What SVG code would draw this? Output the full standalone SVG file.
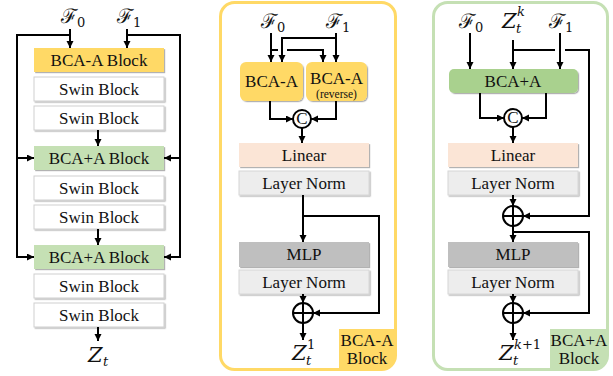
<svg xmlns="http://www.w3.org/2000/svg" width="613" height="376" viewBox="0 0 613 376">
<defs>
<marker id="ah" markerWidth="8" markerHeight="8" refX="7" refY="3.5" orient="auto" markerUnits="userSpaceOnUse">
<path d="M0,0 L7,3.5 L0,7 z" fill="#000"/>
</marker>
<filter id="sh" x="-5%" y="-10%" width="112%" height="130%">
<feDropShadow dx="1.2" dy="1.2" stdDeviation="0.6" flood-color="#000" flood-opacity="0.3"/>
</filter>
<style>
.t{font-family:"Liberation Serif","Times New Roman",serif;font-size:17px;fill:#111;text-anchor:middle}
.sm{font-size:11.5px}
.m{font-family:"DejaVu Serif","Liberation Serif",serif;font-size:20px;fill:#111}
.mi{font-family:"DejaVu Serif","Liberation Serif",serif;font-style:italic;font-size:21px;fill:#111}
.sub{font-family:"DejaVu Serif","Liberation Serif",serif;font-size:13px;fill:#111}
.subi{font-family:"DejaVu Serif","Liberation Serif",serif;font-style:italic;font-size:13px;fill:#111}
.c{fill:none;stroke:#000;stroke-width:2}
.a{fill:none;stroke:#000;stroke-width:2;marker-end:url(#ah)}
.yel{fill:#FFD966}
.grn{fill:#C5E0B4}
.grn2{fill:#A9D18E}
.swin{fill:#fff;stroke:#CFCFCF;stroke-width:1}
.lin{fill:#FBE5D6}
.ln{fill:#EDEDED;stroke:#D6D6D6;stroke-width:1}
.mlp{fill:#BFBFBF}
.blk{filter:url(#sh)}
.circ{fill:#fff;stroke:#000;stroke-width:2}
</style>
</defs>
<rect width="613" height="376" fill="#fff"/>

<!-- LEFT PANEL -->
<g id="left-inputs">
<text class="m" x="61" y="23">ℱ</text><text class="sub" x="77" y="27">0</text>
<text class="m" x="117" y="23">ℱ</text><text class="sub" x="133" y="27">1</text>
</g>
<g id="l-bcaa"><rect class="yel blk" x="34" y="48" width="130" height="24"/><text class="t" x="99" y="66">BCA-A Block</text></g>
<g id="l-swin1"><rect class="swin blk" x="34" y="77" width="130" height="24"/><text class="t" x="99" y="95">Swin Block</text></g>
<g id="l-swin2"><rect class="swin blk" x="34" y="106" width="130" height="24"/><text class="t" x="99" y="124">Swin Block</text></g>
<g id="l-bcaA1"><rect class="grn blk" x="34" y="146" width="130" height="24"/><text class="t" x="99" y="164">BCA+A Block</text></g>
<g id="l-swin3"><rect class="swin blk" x="34" y="176" width="130" height="24"/><text class="t" x="99" y="194">Swin Block</text></g>
<g id="l-swin4"><rect class="swin blk" x="34" y="205" width="130" height="24"/><text class="t" x="99" y="223">Swin Block</text></g>
<g id="l-bcaA2"><rect class="grn blk" x="34" y="245" width="130" height="24"/><text class="t" x="99" y="263">BCA+A Block</text></g>
<g id="l-swin5"><rect class="swin blk" x="34" y="274" width="130" height="24"/><text class="t" x="99" y="292">Swin Block</text></g>
<g id="l-swin6"><rect class="swin blk" x="34" y="303" width="130" height="24"/><text class="t" x="99" y="321">Swin Block</text></g>
<g id="l-out"><text class="mi" x="88" y="362">Z</text><text class="subi" x="103" y="366">t</text></g>

<!-- MIDDLE PANEL -->
<g id="mid-panel">
<path class="yel" d="M339,329 H395 V356 Q395,369 382,369 H339 Z"/>
<rect x="220.5" y="2.5" width="175" height="367" rx="14" fill="none" stroke="#FFD966" stroke-width="3"/>
<text class="t" x="367" y="346" font-size="16">BCA-A</text>
<text class="t" x="367" y="364" font-size="16">Block</text>
</g>
<g id="mid-inputs">
<text class="m" x="261" y="28">ℱ</text><text class="sub" x="277" y="32">0</text>
<text class="m" x="326" y="28">ℱ</text><text class="sub" x="342" y="32">1</text>
</g>
<g id="m-bcaa"><rect class="yel blk" x="240" y="62" width="63" height="39" rx="6"/><text class="t" x="271.5" y="87">BCA-A</text></g>
<g id="m-bcaa-rev"><rect class="yel blk" x="306" y="62" width="61" height="39" rx="6"/><text class="t" x="336.5" y="84">BCA-A</text><text class="t sm" x="336.5" y="98">(reverse)</text></g>
<g id="m-concat"><circle class="circ" cx="302" cy="119" r="9"/><text class="t" x="302" y="124" font-size="14">C</text></g>
<g id="m-linear"><rect class="lin blk" x="239" y="143" width="130" height="24"/><text class="t" x="304" y="161">Linear</text></g>
<g id="m-ln1"><rect class="ln blk" x="239" y="171" width="130" height="24"/><text class="t" x="304" y="189">Layer Norm</text></g>
<g id="m-mlp"><rect class="mlp blk" x="239" y="242" width="130" height="25"/><text class="t" x="304" y="260">MLP</text></g>
<g id="m-ln2"><rect class="ln blk" x="239" y="270" width="130" height="24"/><text class="t" x="304" y="288">Layer Norm</text></g>
<g id="m-add"><circle class="circ" cx="303" cy="313" r="10" stroke-width="2.5"/><path class="c" d="M293,313 H313 M303,303 V323" stroke-width="2.5"/></g>
<g id="m-out"><text class="mi" x="292" y="360">Z</text><text class="subi" x="306" y="365">t</text><text class="sub" x="307" y="349">1</text></g>

<!-- RIGHT PANEL -->
<g id="right-panel">
<path class="grn" d="M550,329 H607 V356 Q607,369 594,369 H550 Z"/>
<rect x="433.5" y="2.5" width="174" height="367" rx="14" fill="none" stroke="#C5E0B4" stroke-width="3"/>
<text class="t" x="579" y="346" font-size="16">BCA+A</text>
<text class="t" x="579" y="364" font-size="16">Block</text>
</g>
<g id="right-inputs">
<text class="m" x="459" y="28">ℱ</text><text class="sub" x="475" y="32">0</text>
<text class="mi" x="502" y="28">Z</text><text class="subi" x="516" y="33">t</text><text class="subi" x="517" y="16">k</text>
<text class="m" x="549" y="28">ℱ</text><text class="sub" x="565" y="32">1</text>
</g>
<g id="r-bcaA"><rect class="grn2 blk" x="449" y="69" width="129" height="24" rx="5"/><text class="t" x="513" y="87">BCA+A</text></g>
<g id="r-concat"><circle class="circ" cx="513" cy="118" r="9"/><text class="t" x="513" y="123" font-size="14">C</text></g>
<g id="r-linear"><rect class="lin blk" x="448" y="143" width="130" height="24"/><text class="t" x="513" y="161">Linear</text></g>
<g id="r-ln1"><rect class="ln blk" x="448" y="171" width="130" height="24"/><text class="t" x="513" y="189">Layer Norm</text></g>
<g id="r-add1"><circle class="circ" cx="513" cy="216" r="10" stroke-width="2.5"/><path class="c" d="M503,216 H523 M513,206 V226" stroke-width="2.5"/></g>
<g id="r-mlp"><rect class="mlp blk" x="448" y="242" width="130" height="25"/><text class="t" x="513" y="260">MLP</text></g>
<g id="r-ln2"><rect class="ln blk" x="448" y="270" width="130" height="24"/><text class="t" x="513" y="288">Layer Norm</text></g>
<g id="r-add2"><circle class="circ" cx="513" cy="313" r="10" stroke-width="2.5"/><path class="c" d="M503,313 H523 M513,303 V323" stroke-width="2.5"/></g>
<g id="r-out"><text class="mi" x="499" y="360">Z</text><text class="subi" x="513" y="365">t</text><text class="sub" x="514" y="349"><tspan class="subi">k</tspan>+1</text></g>

<!-- CONNECTORS -->
<g id="connectors">
<!-- left -->
<path class="a" d="M70,29 V48"/>
<path class="a" d="M127,29 V48"/>
<path class="c" d="M70,35 H17 V158"/>
<path class="a" d="M17,158 H34"/>
<path class="a" d="M17,157 V257 H34"/>
<path class="c" d="M127,35 H180 V158"/>
<path class="a" d="M180,158 H164"/>
<path class="a" d="M180,157 V257 H164"/>
<path class="a" d="M98,130 V146"/>
<path class="a" d="M98,229 V245"/>
<path class="a" d="M98,327 V341"/>
<!-- middle -->
<path class="a" d="M271,33 V62"/>
<path class="a" d="M336,33 V62"/>
<path class="a" d="M336,38 H282 V62"/>
<path class="c" d="M271,50 H278"/>
<path class="a" d="M287,50 H323 V62"/>
<path class="a" d="M270,101 V119 H293"/>
<path class="a" d="M336,101 V119 H311"/>
<path class="a" d="M302,128 V143"/>
<path class="a" d="M303,195 V242"/>
<path class="a" d="M303,216 H379 V313 H313"/>
<path class="a" d="M303,294 V303"/>
<path class="a" d="M303,323 V340"/>
<!-- right -->
<path class="a" d="M470,33 V69"/>
<path class="a" d="M513,40 V69"/>
<path class="a" d="M560,33 V69"/>
<path class="c" d="M513,50 H555"/>
<path class="a" d="M565,50 H589 V216 H523"/>
<path class="a" d="M480,93 V118 H504"/>
<path class="a" d="M546,93 V118 H522"/>
<path class="a" d="M513,127 V143"/>
<path class="a" d="M513,195 V206"/>
<path class="a" d="M513,226 V242"/>
<path class="a" d="M513,232 H589 V313 H523"/>
<path class="a" d="M513,294 V303"/>
<path class="a" d="M513,323 V340"/>
</g>
</svg>
